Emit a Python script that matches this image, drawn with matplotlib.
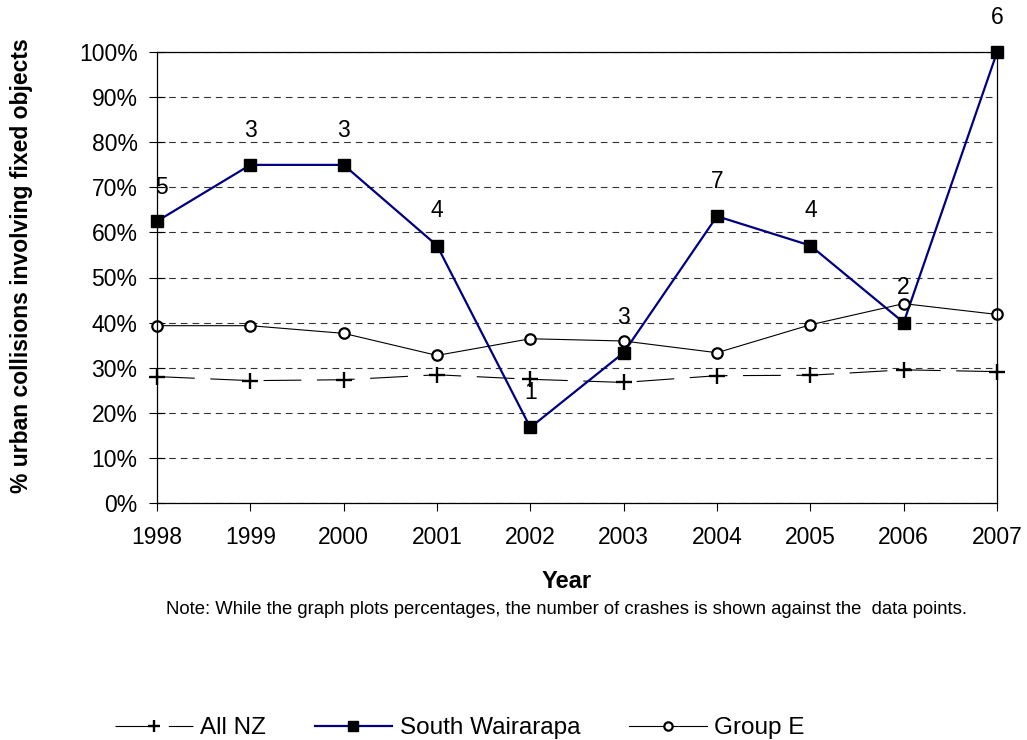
import matplotlib
matplotlib.use("Agg")
import matplotlib.pyplot as plt
from matplotlib.ticker import PercentFormatter

plt.rcParams["font.family"] = ["Liberation Sans", "DejaVu Sans"]

years = [1998, 1999, 2000, 2001, 2002, 2003, 2004, 2005, 2006, 2007]
all_nz = [28.0, 27.1, 27.3, 28.4, 27.4, 26.7, 28.2, 28.3, 29.5, 29.1]
south_wairarapa = [62.5, 75.0, 75.0, 57.1, 16.7, 33.3, 63.6, 57.1, 40.0, 100.0]
group_e = [39.3, 39.3, 37.6, 32.7, 36.4, 35.9, 33.3, 39.5, 44.2, 41.8]
crash_counts = [5, 3, 3, 4, 1, 3, 7, 4, 2, 6]

W, H = 1027, 740
fig = plt.figure(figsize=(W / 100, H / 100), dpi=100)
ax = fig.add_axes([157 / W, 1 - 502.7 / H, (997 - 157) / W, (502.7 - 52.3) / H])

# gridlines
ax.yaxis.grid(True, linestyle=(0, (6, 4.5)), color="#333333", linewidth=0.8)
ax.set_axisbelow(True)

l_nz, = ax.plot(years, all_nz, color="black", linewidth=0.8,
                linestyle=(0, (34, 14)), marker="+", markersize=11,
                markeredgewidth=1.7, label="All NZ", clip_on=False)
l_sw, = ax.plot(years, south_wairarapa, color="#000080", linewidth=1.6,
                marker="s", markersize=8.5, markerfacecolor="black",
                markeredgecolor="black", label="South Wairarapa",
                clip_on=False)
l_ge, = ax.plot(years, group_e, color="black", linewidth=0.8,
                marker="o", markersize=7.5, markerfacecolor="white",
                markeredgewidth=1.6, markeredgecolor="black", label="Group E",
                clip_on=False)

# crash count labels above South Wairarapa points
for i, (x, y, n) in enumerate(zip(years, south_wairarapa, crash_counts)):
    dx = 3.5 if i == 0 else 0
    dy = 24 if i == 0 else 25
    ax.annotate(str(n), (x, y), xytext=(dx, dy), textcoords="offset points",
                ha="center", va="center", fontsize=16.5, clip_on=False)

ax.set_xlim(1998, 2007)
ax.set_ylim(0, 100)
ax.set_xticks(years)
ax.set_yticks(range(0, 101, 10))
ax.yaxis.set_major_formatter(PercentFormatter(decimals=0))
ax.tick_params(axis="y", direction="inout", length=12, width=0.8,
               labelsize=16.5, pad=8)
ax.tick_params(axis="x", direction="out", length=6, width=0.8,
               labelsize=16.5, pad=11)
for s in ax.spines.values():
    s.set_linewidth(0.9)

fig.text(567 / W, 1 - 581 / H, "Year", ha="center", va="center",
         fontsize=17, fontweight="bold")
fig.text(22 / W, 1 - 266 / H, "% urban collisions involving fixed objects",
         rotation=90, ha="center", va="center", fontsize=16.5, fontweight="bold")
fig.text(566 / W, 1 - 609 / H,
         "Note: While the graph plots percentages, the number of crashes is "
         "shown against the  data points.",
         ha="center", va="center", fontsize=13.3)

fig.legend(handles=[l_nz, l_sw, l_ge], loc="center left",
           bbox_to_anchor=(115 / W, 1 - 728 / H), ncol=3, frameon=False,
           fontsize=17.5, handlelength=3.2, handletextpad=0.3,
           columnspacing=2.0, borderpad=0, borderaxespad=0, markerscale=0.8)

fig.savefig("out.png", dpi=100)
